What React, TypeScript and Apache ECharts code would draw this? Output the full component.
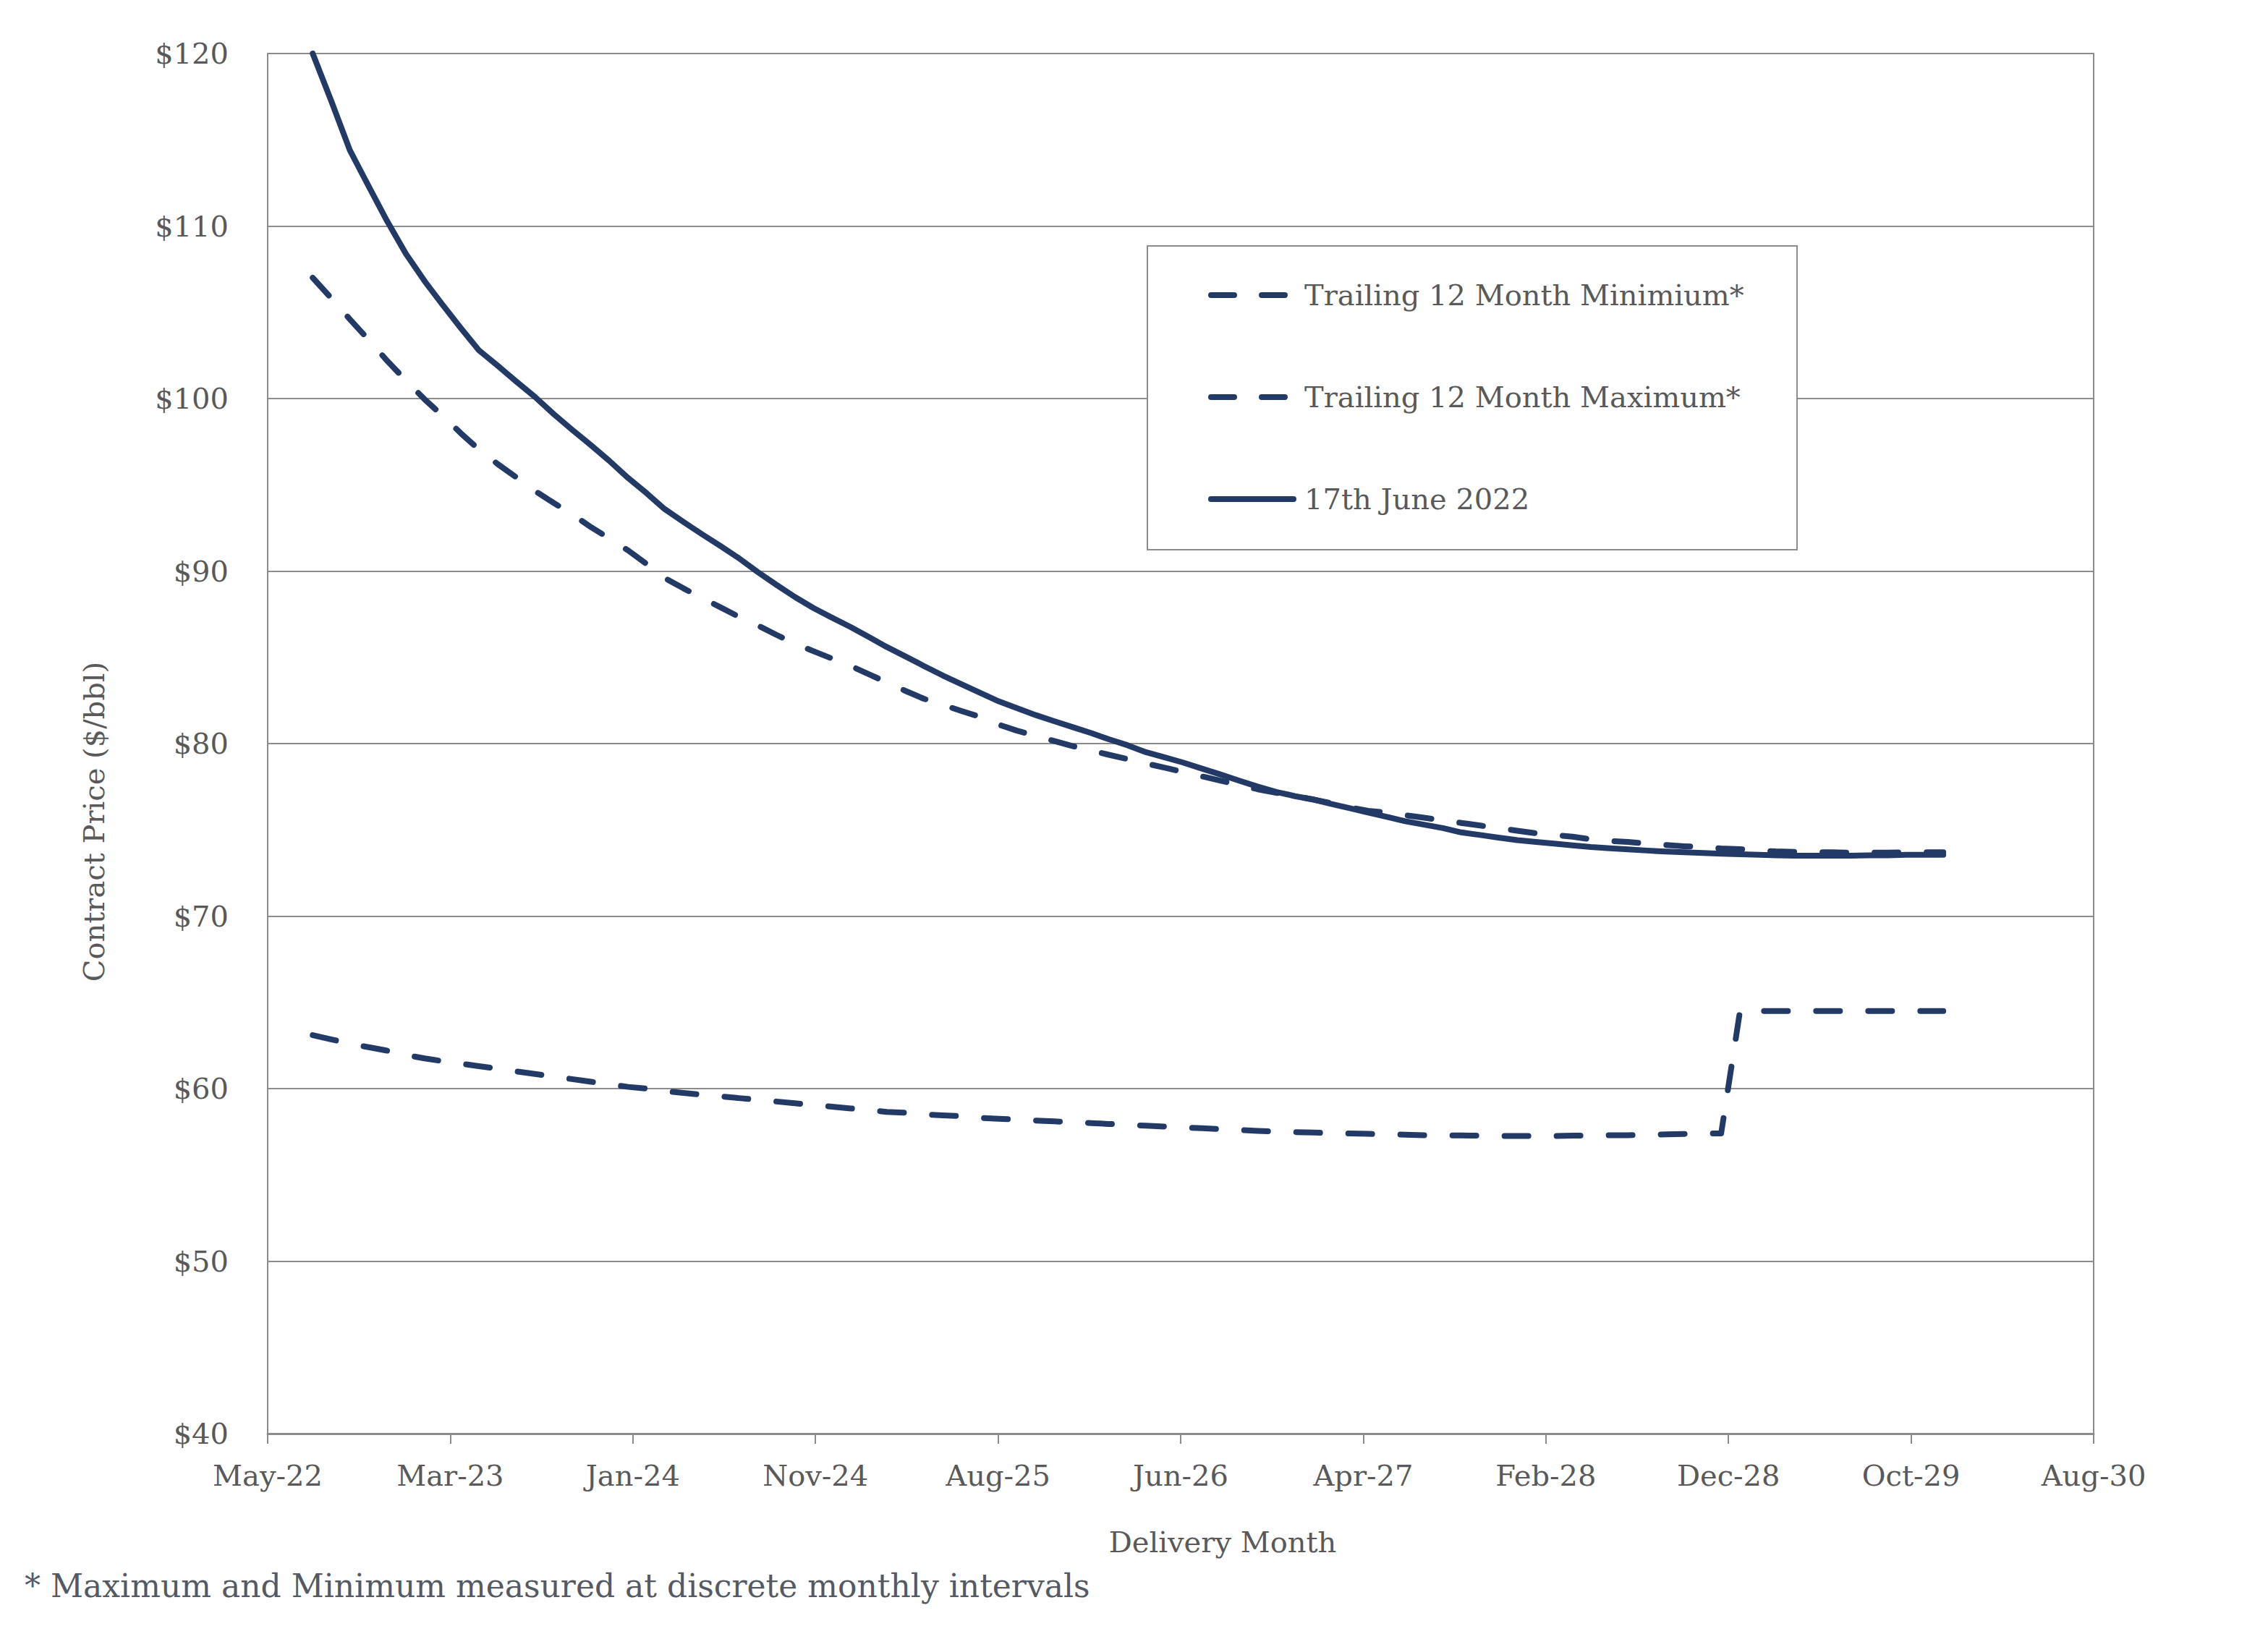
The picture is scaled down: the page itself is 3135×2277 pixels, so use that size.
import React, { useEffect, useRef } from "react";
import * as echarts from "echarts";

const PAGE_W = 3135;
const PAGE_H = 2277;

// Axis origin (first tick, May-22) and tick spacing in days
const AXIS_ORIGIN = Date.UTC(2022, 4, 19);
const DAY_MS = 86400000;
const TICK_DAYS = 300;
const tickLabels = ["May-22", "Mar-23", "Jan-24", "Nov-24", "Aug-25", "Jun-26", "Apr-27", "Feb-28", "Dec-28", "Oct-29", "Aug-30"];
const yTicks = [40, 50, 60, 70, 80, 90, 100, 110, 120];

// Delivery months: Aug-2022 .. Dec-2029 (89 monthly contracts)
const firstDelivery = { year: 2022, month: 7 }; // 0-based month (Aug)
const deliveryCount = 89;
const deliveryMonths: number[] = [];
for (let i = 0; i < deliveryCount; i++) {
  const m = firstDelivery.month + i;
  deliveryMonths.push(Date.UTC(firstDelivery.year + Math.floor(m / 12), m % 12, 1));
}

const trailingMin = [
  63.1, 62.85, 62.6, 62.4, 62.2, 61.95, 61.75, 61.6, 61.45, 61.3,
  61.15, 61.0, 60.85, 60.7, 60.55, 60.4, 60.25, 60.1, 60.0, 59.85,
  59.75, 59.65, 59.55, 59.45, 59.35, 59.25, 59.15, 59.05, 58.95, 58.85,
  58.75, 58.65, 58.6, 58.5, 58.45, 58.4, 58.3, 58.25, 58.2, 58.15,
  58.1, 58.05, 58.0, 57.95, 57.9, 57.85, 57.8, 57.75, 57.7, 57.65,
  57.6, 57.55, 57.5, 57.48, 57.45, 57.42, 57.4, 57.38, 57.35, 57.33,
  57.3, 57.3, 57.28, 57.27, 57.25, 57.25, 57.25, 57.25, 57.27, 57.28,
  57.3, 57.3, 57.32, 57.35, 57.37, 57.4, 57.4, 64.5, 64.5, 64.5,
  64.5, 64.5, 64.5, 64.5, 64.5, 64.5, 64.5, 64.5, 64.5,
];

const trailingMax = [
  107.0, 105.8, 104.6, 103.4, 102.2, 101.05, 99.95, 99.05, 98.0, 97.05,
  96.2, 95.45, 94.65, 93.95, 93.3, 92.55, 91.9, 91.2, 90.4, 89.6,
  89.0, 88.45, 87.9, 87.35, 86.85, 86.3, 85.8, 85.35, 84.93, 84.5,
  84.0, 83.55, 83.05, 82.6, 82.25, 81.9, 81.55, 81.1, 80.75, 80.45,
  80.15, 79.85, 79.6, 79.35, 79.1, 78.85, 78.6, 78.35, 78.1, 77.85,
  77.6, 77.35, 77.15, 76.95, 76.75, 76.55, 76.3, 76.1, 76.0, 75.85,
  75.7, 75.55, 75.4, 75.25, 75.1, 74.95, 74.8, 74.7, 74.6, 74.45,
  74.35, 74.3, 74.2, 74.12, 74.05, 74.0, 73.92, 73.88, 73.8, 73.75,
  73.72, 73.7, 73.7, 73.68, 73.68, 73.68, 73.7, 73.7, 73.7,
];

const june17 = [
  120.0, 117.2, 114.4, 112.3, 110.3, 108.4, 106.8, 105.5, 104.1, 102.8,
  101.9, 101.0, 100.1, 99.1, 98.2, 97.3, 96.4, 95.4, 94.5, 93.6,
  92.85, 92.15, 91.45, 90.75, 89.95, 89.2, 88.5, 87.85, 87.3, 86.75,
  86.15, 85.6, 85.05, 84.5, 83.95, 83.45, 82.95, 82.45, 82.05, 81.65,
  81.3, 80.95, 80.6, 80.25, 79.9, 79.5, 79.2, 78.9, 78.55, 78.2,
  77.85, 77.5, 77.2, 76.95, 76.75, 76.5, 76.25, 76.0, 75.75, 75.5,
  75.3, 75.1, 74.85, 74.7, 74.55, 74.4, 74.3, 74.2, 74.1, 74.0,
  73.93, 73.87, 73.8, 73.74, 73.7, 73.66, 73.62, 73.58, 73.55, 73.52,
  73.5, 73.5, 73.5, 73.5, 73.52, 73.52, 73.55, 73.55, 73.55,
];

const seriesNames = ["Trailing 12 Month Minimium*", "Trailing 12 Month Maximum*", "17th June 2022"];
const seriesDashed = [true, true, false];

const FONT = "DejaVu Serif";
const TEXT = "#595959";
const GRID = "#8c8c8c";
const NAVY = "#243a66";
const LINE_W = 8;
const DASH = [33, 39];

function toDays(t: number) {
  return (t - AXIS_ORIGIN) / DAY_MS;
}

function pairs(values: number[]) {
  return deliveryMonths.map((t, i) => [toDays(t), values[i]]);
}

// Legend drawn as graphic elements (box, line keys, labels)
const LEGEND_BOX = { x: 1586, y: 340, width: 898, height: 420 };
const LEGEND_ROWS = [408, 549, 690];

function legendGraphics() {
  const out: any[] = [
    {
      type: "rect",
      z: 5,
      shape: LEGEND_BOX,
      style: { fill: "#ffffff", stroke: GRID, lineWidth: 2 },
    },
  ];
  seriesNames.forEach((name, i) => {
    const y = LEGEND_ROWS[i];
    out.push({
      type: "line",
      z: 6,
      shape: { x1: 1674, y1: y, x2: seriesDashed[i] ? 1780 : 1788, y2: y },
      style: {
        stroke: NAVY,
        lineWidth: LINE_W,
        lineCap: "round",
        lineDash: seriesDashed[i] ? [32, 38] : null,
      },
    });
    out.push({
      type: "text",
      z: 6,
      x: 1803,
      y: y,
      style: {
        text: name,
        fontFamily: FONT,
        fontSize: 40,
        fill: TEXT,
        align: "left",
        verticalAlign: "middle",
      },
    });
  });
  return out;
}

export default function App() {
  const ref = useRef<HTMLDivElement>(null);

  useEffect(() => {
    if (!ref.current) return;
    const chart = echarts.init(ref.current, null, { renderer: "svg" });
    const makeSeries = (i: number, values: number[]) => ({
      name: seriesNames[i],
      type: "line",
      data: pairs(values),
      symbol: "none",
      lineStyle: {
        color: NAVY,
        width: LINE_W,
        type: seriesDashed[i] ? (DASH as any) : "solid",
        cap: "round",
        join: "round",
      },
      itemStyle: { color: NAVY },
      z: seriesDashed[i] ? 3 : 4,
    });
    chart.setOption({
      animation: false,
      backgroundColor: "#ffffff",
      grid: {
        left: 370,
        top: 74,
        width: 2524,
        height: 1908,
        show: true,
        borderColor: GRID,
        borderWidth: 2,
        backgroundColor: "transparent",
      },
      xAxis: {
        type: "value",
        min: 0,
        max: TICK_DAYS * (tickLabels.length - 1),
        interval: TICK_DAYS,
        axisLine: { show: true, lineStyle: { color: GRID, width: 3 } },
        axisTick: { show: true, length: 14, lineStyle: { color: GRID, width: 2 } },
        splitLine: { show: false },
        axisLabel: {
          margin: 38,
          fontFamily: FONT,
          fontSize: 40,
          color: TEXT,
          formatter: (v: number) => tickLabels[Math.round(v / TICK_DAYS)] ?? "",
        },
      },
      yAxis: {
        type: "value",
        min: yTicks[0],
        max: yTicks[yTicks.length - 1],
        interval: 10,
        axisLine: { show: true, lineStyle: { color: GRID, width: 2 } },
        axisTick: { show: false },
        splitLine: { show: true, lineStyle: { color: GRID, width: 2 } },
        axisLabel: {
          margin: 54,
          fontFamily: FONT,
          fontSize: 40,
          color: TEXT,
          formatter: (v: number) => "$" + v,
        },
      },
      graphic: [
        ...legendGraphics(),
        {
          type: "text",
          x: 130,
          y: 1136,
          rotation: Math.PI / 2,
          style: {
            text: "Contract Price ($/bbl)",
            fontFamily: FONT,
            fontSize: 40,
            fill: TEXT,
            align: "center",
            verticalAlign: "middle",
          },
        },
        {
          type: "text",
          x: 1690,
          y: 2132,
          style: {
            text: "Delivery Month",
            fontFamily: FONT,
            fontSize: 40,
            fill: TEXT,
            align: "center",
            verticalAlign: "middle",
          },
        },
        {
          type: "text",
          x: 34,
          y: 2192,
          style: {
            text: "* Maximum and Minimum measured at discrete monthly intervals",
            fontFamily: FONT,
            fontSize: 44,
            fill: "#545a64",
            align: "left",
            verticalAlign: "middle",
          },
        },
      ],
      series: [
        makeSeries(0, trailingMin),
        makeSeries(1, trailingMax),
        makeSeries(2, june17),
      ],
    });
    return () => chart.dispose();
  }, []);

  return (
    <div
      ref={ref}
      style={{ position: "absolute", left: 0, top: 0, width: PAGE_W, height: PAGE_H, background: "#ffffff" }}
    />
  );
}
